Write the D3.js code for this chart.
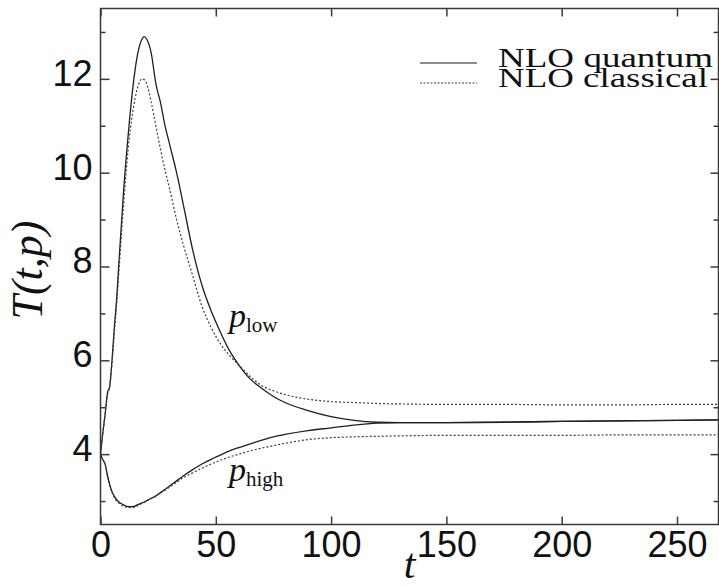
<!DOCTYPE html>
<html>
<head>
<meta charset="utf-8">
<script src="https://cdn.jsdelivr.net/npm/d3@7"></script>
<style>
  body { margin: 0; background: #fff; }
  svg { display: block; }
</style>
</head>
<body>
<div id="chart"></div>
<script>
// time points (shared by all four curves)
var times = [0, 1, 2, 3, 4, 5, 6, 7, 8, 10, 12, 14, 16, 18, 19, 20, 22, 24, 26, 28, 30, 33, 36, 40, 44, 48, 52, 56, 60, 65, 70, 75, 80, 90, 100, 110, 120, 130, 150, 175, 200, 225, 250, 268];

// p_low, NLO quantum (solid)
var lowQuantum = [4.0, 4.45, 4.85, 5.3, 5.45, 6.0, 6.7, 7.3, 8.1, 9.6, 10.8, 11.8, 12.5, 12.85, 12.9, 12.85, 12.55, 11.9, 11.5, 11.0, 10.6, 10.0, 9.3, 8.35, 7.6, 7.05, 6.6, 6.2, 5.9, 5.6, 5.4, 5.23, 5.1, 4.93, 4.8, 4.72, 4.68, 4.67, 4.67, 4.68, 4.7, 4.71, 4.72, 4.73];
// p_low, NLO classical (dotted)
var lowClassical = [4.0, 4.45, 4.85, 5.25, 5.45, 5.95, 6.6, 7.2, 7.9, 9.3, 10.5, 11.3, 11.8, 12.0, 11.98, 11.9, 11.5, 11.0, 10.5, 10.05, 9.65, 9.0, 8.45, 7.8, 7.15, 6.7, 6.35, 6.1, 5.9, 5.65, 5.46, 5.35, 5.27, 5.17, 5.12, 5.1, 5.08, 5.07, 5.06, 5.06, 5.05, 5.05, 5.06, 5.06];
// p_high, NLO quantum (solid)
var highQuantum = [4.0, 3.88, 3.79, 3.55, 3.35, 3.2, 3.1, 3.03, 2.98, 2.92, 2.88, 2.88, 2.92, 2.96, 2.98, 3.01, 3.06, 3.11, 3.18, 3.25, 3.32, 3.43, 3.54, 3.67, 3.79, 3.89, 3.98, 4.07, 4.14, 4.22, 4.3, 4.37, 4.42, 4.5, 4.56, 4.62, 4.66, 4.67, 4.67, 4.68, 4.7, 4.71, 4.72, 4.73];
// p_high, NLO classical (dotted)
var highClassical = [4.0, 3.88, 3.78, 3.53, 3.33, 3.18, 3.07, 3.0, 2.95, 2.89, 2.86, 2.86, 2.9, 2.95, 2.97, 3.0, 3.05, 3.1, 3.17, 3.23, 3.3, 3.4, 3.5, 3.6, 3.7, 3.79, 3.87, 3.94, 4.0, 4.07, 4.13, 4.18, 4.23, 4.31, 4.35, 4.37, 4.38, 4.39, 4.4, 4.4, 4.4, 4.41, 4.41, 4.41];

var xTicks = [0, 50, 100, 150, 200, 250];
var yTicks = [4, 6, 8, 10, 12];
var yMinorTicks = [3, 5, 7, 9, 11, 13];
var legendNames = ["NLO quantum", "NLO classical"];

var width = 719,
    height = 587,
    plotLeft = 100.5,
    plotRight = 718.5,
    plotTop = 8.5,
    plotBottom = 524.5,
    axisColor = "#3a3a3a";

var x = d3.scaleLinear().domain([0, 268]).range([plotLeft, plotRight]);
var y = d3.scaleLinear().domain([2.5, 13.5]).range([plotBottom, plotTop]);

var svg = d3.select("#chart").append("svg")
    .attr("width", width)
    .attr("height", height);

var series = [
    { values: lowQuantum, dash: null, color: "#1e1e1e", width: 1.3 },
    { values: lowClassical, dash: "2,2", color: "#3c3c3c", width: 1.2 },
    { values: highQuantum, dash: null, color: "#1e1e1e", width: 1.3 },
    { values: highClassical, dash: "2,2", color: "#3c3c3c", width: 1.2 }
];

var line = d3.line()
    .x(function (d) { return x(d.t); })
    .y(function (d) { return y(d.v); })
    .curve(d3.curveMonotoneX);

series.forEach(function (s) {
    var pts = times.map(function (t, i) { return { t: t, v: s.values[i] }; });
    svg.append("path")
        .attr("fill", "none")
        .attr("stroke", s.color)
        .attr("stroke-width", s.width)
        .attr("stroke-dasharray", s.dash)
        .attr("d", line(pts));
});

// axes, ticks pointing inward on all four sides
function styleAxis(g) {
    g.select(".domain").remove();
    g.selectAll(".tick line").attr("stroke", axisColor).attr("stroke-width", 1.5);
    g.selectAll(".tick text")
        .attr("fill", "#111")
        .style("font-family", "'Liberation Sans', Arial, sans-serif")
        .style("font-size", "36px");
}

svg.append("g")
    .attr("transform", "translate(0," + plotBottom + ")")
    .call(d3.axisBottom(x).tickValues(xTicks).tickSizeInner(-8).tickSizeOuter(0).tickPadding(7))
    .call(styleAxis);

svg.append("g")
    .attr("transform", "translate(0," + plotTop + ")")
    .call(d3.axisTop(x).tickValues(xTicks).tickSizeInner(-8).tickSizeOuter(0).tickFormat(""))
    .call(styleAxis);

svg.append("g")
    .attr("transform", "translate(" + plotLeft + ",0)")
    .call(d3.axisLeft(y).tickValues(yTicks).tickSizeInner(-9).tickSizeOuter(0).tickPadding(8))
    .call(styleAxis)
    .selectAll(".tick text").attr("dy", "0.18em");

svg.append("g")
    .attr("transform", "translate(" + plotLeft + ",0)")
    .call(d3.axisLeft(y).tickValues(yMinorTicks).tickSizeInner(-5).tickSizeOuter(0).tickFormat(""))
    .call(styleAxis);

svg.append("g")
    .attr("transform", "translate(" + plotRight + ",0)")
    .call(d3.axisRight(y).tickValues(yTicks).tickSizeInner(-8).tickSizeOuter(0).tickFormat(""))
    .call(styleAxis);

svg.append("g")
    .attr("transform", "translate(" + plotRight + ",0)")
    .call(d3.axisRight(y).tickValues(yMinorTicks).tickSizeInner(-5).tickSizeOuter(0).tickFormat(""))
    .call(styleAxis);

// frame
svg.append("rect")
    .attr("x", plotLeft)
    .attr("y", plotTop)
    .attr("width", plotRight - plotLeft)
    .attr("height", plotBottom - plotTop)
    .attr("fill", "none")
    .attr("stroke", axisColor)
    .attr("stroke-width", 1.5);

// axis titles
svg.append("text")
    .attr("transform", "translate(42,270) rotate(-90)")
    .attr("text-anchor", "middle")
    .style("font-family", "'Liberation Serif', 'Times New Roman', serif")
    .style("font-style", "italic")
    .style("font-size", "44px")
    .attr("fill", "#111")
    .text("T(t,p)");

svg.append("text")
    .attr("x", (plotLeft + plotRight) / 2)
    .attr("y", 578)
    .attr("text-anchor", "middle")
    .style("font-family", "'Liberation Serif', 'Times New Roman', serif")
    .style("font-style", "italic")
    .style("font-size", "42px")
    .attr("fill", "#111")
    .text("t");

// curve labels p_low and p_high
function curveLabel(px, py, sub) {
    var t = svg.append("text")
        .attr("x", px)
        .attr("y", py)
        .style("font-family", "'Liberation Serif', 'Times New Roman', serif")
        .attr("fill", "#111");
    t.append("tspan").style("font-style", "italic").style("font-size", "34px").text("p");
    t.append("tspan").style("font-size", "21px").attr("dy", 5).text(sub);
}
curveLabel(229, 327, "low");
curveLabel(229, 481, "high");

// legend
var legend = svg.selectAll(".legend")
    .data(legendNames)
    .enter()
    .append("g")
    .attr("class", "legend")
    .attr("transform", function (d, i) { return "translate(0," + (i * 20) + ")"; });

legend.append("line")
    .attr("x1", 420).attr("x2", 477)
    .attr("y1", 63).attr("y2", 63)
    .attr("stroke", function (d, i) { return i ? "#3c3c3c" : "#1e1e1e"; })
    .attr("stroke-width", 1.2)
    .attr("stroke-dasharray", function (d, i) { return i ? "2,1.5" : null; });

legend.append("text")
    .attr("x", 498)
    .attr("y", 67)
    .attr("textLength", function (d, i) { return i ? 210 : 215; })
    .attr("lengthAdjust", "spacingAndGlyphs")
    .style("font-family", "'Liberation Serif', 'Times New Roman', serif")
    .style("font-size", "27px")
    .attr("fill", "#111")
    .text(function (d) { return d; });
</script>
</body>
</html>
